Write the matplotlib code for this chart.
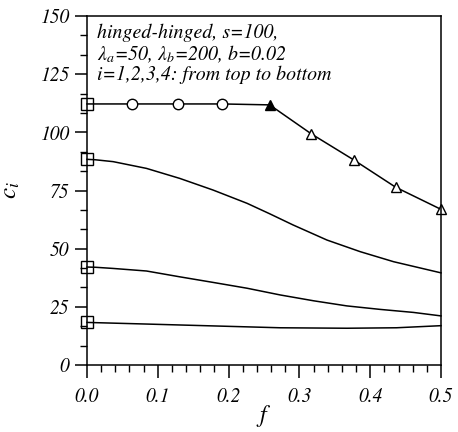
import matplotlib
matplotlib.use("Agg")
import matplotlib.pyplot as plt
from matplotlib.ticker import MultipleLocator

plt.rcParams['font.family'] = ['STIXGeneral', 'DejaVu Serif']
plt.rcParams['mathtext.fontset'] = 'stix'

# curve 1 (i=1): square at f=0, circles, filled triangle, open triangles
c1_sq_f = [0.0]
c1_sq_v = [112.2]
c1_circ_f = [0.064, 0.129, 0.191]
c1_circ_v = [112.2, 112.2, 112.2]
c1_ftri_f = [0.258]
c1_ftri_v = [111.8]
c1_tri_f = [0.317, 0.377, 0.436, 0.5]
c1_tri_v = [99.3, 88.1, 76.4, 66.9]

# curve 2
c2_f = [0.0, 0.012, 0.037, 0.084, 0.131, 0.178, 0.226, 0.258, 0.291, 0.339, 0.386, 0.433, 0.5]
c2_v = [88.4, 88.2, 87.4, 84.5, 80.2, 75.2, 69.5, 65.0, 60.2, 53.7, 48.7, 44.4, 39.6]
# curve 3
c3_f = [0.0, 0.012, 0.037, 0.084, 0.131, 0.178, 0.226, 0.273, 0.320, 0.367, 0.414, 0.461, 0.5]
c3_v = [42.1, 42.0, 41.5, 40.4, 37.9, 35.5, 33.0, 30.1, 27.6, 25.4, 23.9, 22.6, 21.1]
# curve 4
c4_f = [0.0, 0.084, 0.178, 0.273, 0.367, 0.437, 0.5]
c4_v = [18.3, 17.6, 16.8, 16.0, 15.8, 16.0, 16.9]

fig = plt.figure(figsize=(4.58, 4.32), dpi=100)
ax = fig.add_axes([87/458, 1-365/432, (441-87)/458, (365-16)/432])

lw = 1.1
ms_sq = 8.5
mk = dict(mec='black', mew=1.0, clip_on=False, ls='none')
c1_f = c1_sq_f + c1_circ_f + c1_ftri_f + c1_tri_f
c1_v = c1_sq_v + c1_circ_v + c1_ftri_v + c1_tri_v
ax.plot(c1_f, c1_v, color='black', lw=lw, clip_on=False)
ax.plot(c1_sq_f, c1_sq_v, marker='s', ms=ms_sq, mfc='none', **mk)
ax.plot(c1_circ_f, c1_circ_v, marker='o', ms=7.5, mfc='white', **mk)
ax.plot(c1_ftri_f, c1_ftri_v, marker='^', ms=7.5, mfc='black', **mk)
ax.plot(c1_tri_f, c1_tri_v, marker='^', ms=7.5, mfc='white', **mk)

for f, v in [(c2_f, c2_v), (c3_f, c3_v), (c4_f, c4_v)]:
    ax.plot(f, v, color='black', lw=lw, clip_on=False)
    ax.plot(f[:1], v[:1], marker='s', ms=ms_sq, mfc='none', **mk)

ax.set_xlim(0, 0.5)
ax.set_ylim(0, 150)
ax.xaxis.set_major_locator(MultipleLocator(0.1))
ax.xaxis.set_minor_locator(MultipleLocator(0.02))
ax.yaxis.set_major_locator(MultipleLocator(25))
ax.yaxis.set_minor_locator(MultipleLocator(25/3))
ax.tick_params(which='major', direction='out', length=9, width=1.1, labelsize=14, pad=4)
ax.tick_params(which='minor', direction='out', length=5, width=1.0)
ax.tick_params(axis='x', pad=7)
ax.set_xticklabels([f"{t:.1f}" for t in ax.get_xticks()], style='italic')
ax.set_yticklabels([f"{int(t)}" for t in ax.get_yticks()], style='italic')
for s in ax.spines.values():
    s.set_linewidth(1.1)

ax.set_xlabel('$f$', fontsize=17, labelpad=-2)
ax.set_ylabel('$c_i$', fontsize=18, labelpad=12)

tk = dict(transform=ax.transAxes, fontsize=14.3, style='italic', va='center', ha='left')
ax.text(0.028, 0.951, 'hinged-hinged, s=100,', **tk)
ax.text(0.028, 0.890, r'$\lambda_a$=50, $\lambda_b$=200, b=0.02', **tk)
ax.text(0.028, 0.831, 'i=1,2,3,4: from top to bottom', **tk)

fig.savefig('out.png', dpi=100)
